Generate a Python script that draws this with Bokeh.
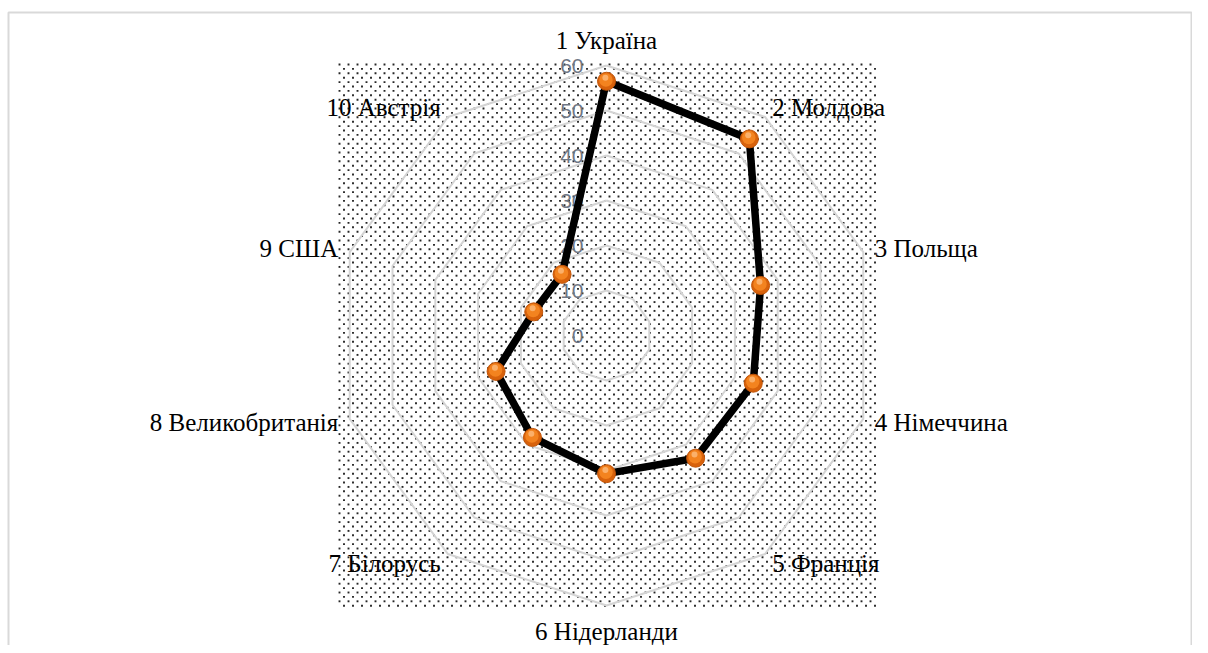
import numpy as np
from bokeh.plotting import figure
from bokeh.models import Range1d
from bokeh.core.properties import value
from bokeh.embed import file_html
from bokeh.resources import INLINE

# ---- data ----
categories = ["1 Україна", "2 Молдова", "3 Польща", "4 Німеччина", "5 Франція",
              "6 Нідерланди", "7 Білорусь", "8 Великобританія", "9 США", "10 Австрія"]
values = [56.5, 54, 36, 34.3, 33.7, 30.7, 28, 25.8, 17, 16.8]
ticks = [0, 10, 20, 30, 40, 50, 60]
tick_labels = ["0", "10", "20", "30", "40", "50", "60"]

# ---- layout (pixels) ----
W, H = 1192, 645
S = 4.5                  # px per value unit
CXP, CYP = 606, 335      # canvas position of radar centre
cx, cy = CXP, CYP

def px(page_x):
    return (page_x - CXP) / S

def py(page_y):
    return (CYP - page_y) / S

p = figure(width=W, height=H, output_backend="svg", toolbar_location=None,
           x_axis_type=None, y_axis_type=None, min_border=0,
           x_range=Range1d(-cx / S, (W - cx) / S),
           y_range=Range1d(-(H - cy) / S, cy / S))
p.outline_line_color = None
p.background_fill_color = "white"
p.border_fill_color = "white"

# outer chart frame
p.quad(left=[px(8)], right=[px(1191)], top=[py(12)], bottom=[py(700)],
       fill_color=None, line_color="#d9d9d9", line_width=2)

# dotted plot-area pattern (Excel 5% pattern)
xs, ys = [], []
row = 0
yy = 64.0
while yy <= 606:
    off = 0 if row % 2 == 0 else 4.5
    xx = 339 + off
    while xx <= 878:
        xs.append(px(xx)); ys.append(py(yy))
        xx += 9
    yy += 4.4
    row += 1
p.scatter(xs, ys, marker="square", size=1.9, fill_color="#262626", line_color=None)

n = len(categories)
ang = np.arange(n) * 2 * np.pi / n

# grid rings
for t in ticks[1:]:
    gx = list(t * np.sin(ang)) + [0.0]
    gy = list(t * np.cos(ang)) + [t]
    gx[-1] = gx[0]
    p.line(gx, gy, line_color="#d4d4d4", line_width=2)

# tick labels
p.text(x=[-23 / S] * len(ticks), y=ticks, text=tick_labels,
       text_align="right", text_baseline="middle",
       text_font=value("Liberation Sans"), text_font_size="21px",
       text_color="#6f7785")

# category labels
label_r = 282 / S
aligns, bases = [], []
for a in ang:
    s = np.sin(a)
    c = np.cos(a)
    if abs(s) < 1e-6:
        aligns.append("center")
        bases.append("bottom" if c > 0 else "top")
    else:
        aligns.append("left" if s > 0 else "right")
        bases.append("middle")
p.text(x=list(label_r * np.sin(ang)), y=list(label_r * np.cos(ang)), text=categories,
       text_align=aligns, text_baseline=bases,
       text_font=value("Liberation Serif"), text_font_size="25px",
       text_color="#000000")

# series
vx = np.array(values) * np.sin(ang)
vy = np.array(values) * np.cos(ang)
p.line(list(vx) + [vx[0]], list(vy) + [vy[0]], line_color="black", line_width=7.5,
       line_join="round")
p.scatter(vx, vy, size=18, fill_color="#d8620c", line_color="#c25508", line_width=1)
p.scatter(vx - 0.12, vy + 0.3, size=13.5, fill_color="#f3831f", line_color=None)
p.scatter(vx - 0.25, vy + 0.8, size=6, fill_color="#fbb06a", line_color=None)

open("out.html", "w").write(file_html(p, INLINE))
